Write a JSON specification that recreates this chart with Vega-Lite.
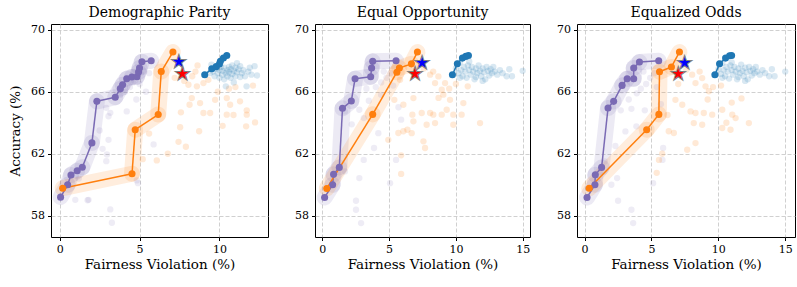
{
"$schema": "https://vega.github.io/schema/vega-lite/v6.json",
"padding": {"left": 8, "top": 5, "right": 5, "bottom": 5},
"config": {
  "font": "DejaVu Serif",
  "concat": {"spacing": 25},
  "view": {"stroke": "#000000"},
  "axis": {"labelFont": "DejaVu Serif", "labelFontSize": 11, "labelColor": "#000", "labelOverlap": false, "titleFont": "DejaVu Serif", "titleFontSize": 13.5, "titleFontWeight": "normal", "titleColor": "#000", "domain": false, "tickColor": "#000", "tickSize": 3.5, "labelPadding": 3, "gridColor": "#c4c4c4", "gridDash": [4, 2], "gridWidth": 0.8},
  "title": {"font": "DejaVu Serif", "fontSize": 14, "fontWeight": "normal", "color": "#000"}
},
"data": {"values": [
    {"k":"L","p":1,"s":"P","x":0.06,"y":59.2},{"k":"L","p":1,"s":"P","x":0.5,"y":60.0},{"k":"L","p":1,"s":"P","x":0.71,"y":60.63},{"k":"L","p":1,"s":"P","x":1.1,"y":60.9},{"k":"L","p":1,"s":"P","x":1.42,"y":61.13},{"k":"L","p":1,"s":"P","x":2.02,"y":62.7},{"k":"L","p":1,"s":"P","x":2.33,"y":65.38},{"k":"L","p":1,"s":"P","x":3.48,"y":65.65},{"k":"L","p":1,"s":"P","x":3.8,"y":66.2},{"k":"L","p":1,"s":"P","x":3.94,"y":66.45},{"k":"L","p":1,"s":"P","x":4.2,"y":66.84},{"k":"L","p":1,"s":"P","x":4.52,"y":66.95},{"k":"L","p":1,"s":"P","x":4.84,"y":66.97},{"k":"L","p":1,"s":"P","x":4.94,"y":67.27},{"k":"L","p":1,"s":"P","x":5.0,"y":67.53},{"k":"L","p":1,"s":"P","x":5.15,"y":67.94},{"k":"L","p":1,"s":"P","x":5.73,"y":68.0},
    {"k":"L","p":1,"s":"O","x":0.19,"y":59.78},{"k":"L","p":1,"s":"O","x":4.53,"y":60.71},{"k":"L","p":1,"s":"O","x":4.73,"y":63.55},{"k":"L","p":1,"s":"O","x":6.17,"y":64.53},{"k":"L","p":1,"s":"O","x":6.36,"y":67.3},{"k":"L","p":1,"s":"O","x":7.09,"y":68.56},
    {"k":"L","p":1,"s":"B","x":9.08,"y":67.1},{"k":"L","p":1,"s":"B","x":9.52,"y":67.48},{"k":"L","p":1,"s":"B","x":9.8,"y":67.62},{"k":"L","p":1,"s":"B","x":10.0,"y":67.79},{"k":"L","p":1,"s":"B","x":10.06,"y":67.96},{"k":"L","p":1,"s":"B","x":10.25,"y":68.18},{"k":"L","p":1,"s":"B","x":10.46,"y":68.34},
    {"k":"L","p":2,"s":"P","x":0.17,"y":59.18},{"k":"L","p":2,"s":"P","x":0.77,"y":60.0},{"k":"L","p":2,"s":"P","x":0.84,"y":60.67},{"k":"L","p":2,"s":"P","x":1.27,"y":61.12},{"k":"L","p":2,"s":"P","x":1.51,"y":64.93},{"k":"L","p":2,"s":"P","x":2.17,"y":65.4},{"k":"L","p":2,"s":"P","x":2.45,"y":66.84},{"k":"L","p":2,"s":"P","x":3.62,"y":66.97},{"k":"L","p":2,"s":"P","x":3.69,"y":67.53},{"k":"L","p":2,"s":"P","x":3.77,"y":67.96},{"k":"L","p":2,"s":"P","x":5.52,"y":68.0},
    {"k":"L","p":2,"s":"O","x":0.33,"y":59.76},{"k":"L","p":2,"s":"O","x":3.77,"y":64.54},{"k":"L","p":2,"s":"O","x":5.58,"y":67.26},{"k":"L","p":2,"s":"O","x":5.77,"y":67.53},{"k":"L","p":2,"s":"O","x":6.67,"y":67.8},{"k":"L","p":2,"s":"O","x":7.12,"y":68.56},
    {"k":"L","p":2,"s":"B","x":9.74,"y":67.1},{"k":"L","p":2,"s":"B","x":10.11,"y":67.81},{"k":"L","p":2,"s":"B","x":10.49,"y":68.17},{"k":"L","p":2,"s":"B","x":10.74,"y":68.28},{"k":"L","p":2,"s":"B","x":10.94,"y":68.34},
    {"k":"L","p":3,"s":"P","x":0.18,"y":59.18},{"k":"L","p":3,"s":"P","x":0.77,"y":60.0},{"k":"L","p":3,"s":"P","x":0.8,"y":60.65},{"k":"L","p":3,"s":"P","x":1.27,"y":61.12},{"k":"L","p":3,"s":"P","x":1.75,"y":64.95},{"k":"L","p":3,"s":"P","x":2.17,"y":65.38},{"k":"L","p":3,"s":"P","x":2.8,"y":66.41},{"k":"L","p":3,"s":"P","x":3.18,"y":66.84},{"k":"L","p":3,"s":"P","x":3.67,"y":66.84},{"k":"L","p":3,"s":"P","x":3.67,"y":67.53},{"k":"L","p":3,"s":"P","x":4.1,"y":67.92},{"k":"L","p":3,"s":"P","x":5.54,"y":68.0},
    {"k":"L","p":3,"s":"O","x":0.34,"y":59.77},{"k":"L","p":3,"s":"O","x":4.64,"y":63.55},{"k":"L","p":3,"s":"O","x":5.55,"y":64.54},{"k":"L","p":3,"s":"O","x":5.6,"y":67.29},{"k":"L","p":3,"s":"O","x":6.49,"y":67.6},{"k":"L","p":3,"s":"O","x":7.09,"y":68.56},
    {"k":"L","p":3,"s":"B","x":9.74,"y":67.1},{"k":"L","p":3,"s":"B","x":10.09,"y":67.81},{"k":"L","p":3,"s":"B","x":10.54,"y":68.17},{"k":"L","p":3,"s":"B","x":10.84,"y":68.32},{"k":"L","p":3,"s":"B","x":10.99,"y":68.34},
    {"k":"G","p":1,"s":"P","x":0.06,"y":59.2,"x2":0.5,"y2":60.0},{"k":"G","p":1,"s":"P","x":0.5,"y":60.0,"x2":0.71,"y2":60.63},{"k":"G","p":1,"s":"P","x":0.71,"y":60.63,"x2":1.1,"y2":60.9},{"k":"G","p":1,"s":"P","x":1.1,"y":60.9,"x2":1.42,"y2":61.13},{"k":"G","p":1,"s":"P","x":1.42,"y":61.13,"x2":2.02,"y2":62.7},{"k":"G","p":1,"s":"P","x":2.02,"y":62.7,"x2":2.33,"y2":65.38},{"k":"G","p":1,"s":"P","x":2.33,"y":65.38,"x2":3.48,"y2":65.65},{"k":"G","p":1,"s":"P","x":3.48,"y":65.65,"x2":3.8,"y2":66.2},{"k":"G","p":1,"s":"P","x":3.8,"y":66.2,"x2":3.94,"y2":66.45},{"k":"G","p":1,"s":"P","x":3.94,"y":66.45,"x2":4.2,"y2":66.84},{"k":"G","p":1,"s":"P","x":4.2,"y":66.84,"x2":4.52,"y2":66.95},{"k":"G","p":1,"s":"P","x":4.52,"y":66.95,"x2":4.84,"y2":66.97},{"k":"G","p":1,"s":"P","x":4.84,"y":66.97,"x2":4.94,"y2":67.27},{"k":"G","p":1,"s":"P","x":4.94,"y":67.27,"x2":5.0,"y2":67.53},{"k":"G","p":1,"s":"P","x":5.0,"y":67.53,"x2":5.15,"y2":67.94},{"k":"G","p":1,"s":"P","x":5.15,"y":67.94,"x2":5.73,"y2":68.0},
    {"k":"G","p":1,"s":"O","x":0.19,"y":59.78,"x2":4.53,"y2":60.71},{"k":"G","p":1,"s":"O","x":4.53,"y":60.71,"x2":4.73,"y2":63.55},{"k":"G","p":1,"s":"O","x":4.73,"y":63.55,"x2":6.17,"y2":64.53},{"k":"G","p":1,"s":"O","x":6.17,"y":64.53,"x2":6.36,"y2":67.3},{"k":"G","p":1,"s":"O","x":6.36,"y":67.3,"x2":7.09,"y2":68.56},
    {"k":"G","p":1,"s":"B","x":9.08,"y":67.1,"x2":9.52,"y2":67.48},{"k":"G","p":1,"s":"B","x":9.52,"y":67.48,"x2":9.8,"y2":67.62},{"k":"G","p":1,"s":"B","x":9.8,"y":67.62,"x2":10.0,"y2":67.79},{"k":"G","p":1,"s":"B","x":10.0,"y":67.79,"x2":10.06,"y2":67.96},{"k":"G","p":1,"s":"B","x":10.06,"y":67.96,"x2":10.25,"y2":68.18},{"k":"G","p":1,"s":"B","x":10.25,"y":68.18,"x2":10.46,"y2":68.34},
    {"k":"G","p":2,"s":"P","x":0.17,"y":59.18,"x2":0.77,"y2":60.0},{"k":"G","p":2,"s":"P","x":0.77,"y":60.0,"x2":0.84,"y2":60.67},{"k":"G","p":2,"s":"P","x":0.84,"y":60.67,"x2":1.27,"y2":61.12},{"k":"G","p":2,"s":"P","x":1.27,"y":61.12,"x2":1.51,"y2":64.93},{"k":"G","p":2,"s":"P","x":1.51,"y":64.93,"x2":2.17,"y2":65.4},{"k":"G","p":2,"s":"P","x":2.17,"y":65.4,"x2":2.45,"y2":66.84},{"k":"G","p":2,"s":"P","x":2.45,"y":66.84,"x2":3.62,"y2":66.97},{"k":"G","p":2,"s":"P","x":3.62,"y":66.97,"x2":3.69,"y2":67.53},{"k":"G","p":2,"s":"P","x":3.69,"y":67.53,"x2":3.77,"y2":67.96},{"k":"G","p":2,"s":"P","x":3.77,"y":67.96,"x2":5.52,"y2":68.0},
    {"k":"G","p":2,"s":"O","x":0.33,"y":59.76,"x2":3.77,"y2":64.54},{"k":"G","p":2,"s":"O","x":3.77,"y":64.54,"x2":5.58,"y2":67.26},{"k":"G","p":2,"s":"O","x":5.58,"y":67.26,"x2":5.77,"y2":67.53},{"k":"G","p":2,"s":"O","x":5.77,"y":67.53,"x2":6.67,"y2":67.8},{"k":"G","p":2,"s":"O","x":6.67,"y":67.8,"x2":7.12,"y2":68.56},
    {"k":"G","p":2,"s":"B","x":9.74,"y":67.1,"x2":10.11,"y2":67.81},{"k":"G","p":2,"s":"B","x":10.11,"y":67.81,"x2":10.49,"y2":68.17},{"k":"G","p":2,"s":"B","x":10.49,"y":68.17,"x2":10.74,"y2":68.28},{"k":"G","p":2,"s":"B","x":10.74,"y":68.28,"x2":10.94,"y2":68.34},
    {"k":"G","p":3,"s":"P","x":0.18,"y":59.18,"x2":0.77,"y2":60.0},{"k":"G","p":3,"s":"P","x":0.77,"y":60.0,"x2":0.8,"y2":60.65},{"k":"G","p":3,"s":"P","x":0.8,"y":60.65,"x2":1.27,"y2":61.12},{"k":"G","p":3,"s":"P","x":1.27,"y":61.12,"x2":1.75,"y2":64.95},{"k":"G","p":3,"s":"P","x":1.75,"y":64.95,"x2":2.17,"y2":65.38},{"k":"G","p":3,"s":"P","x":2.17,"y":65.38,"x2":2.8,"y2":66.41},{"k":"G","p":3,"s":"P","x":2.8,"y":66.41,"x2":3.18,"y2":66.84},{"k":"G","p":3,"s":"P","x":3.18,"y":66.84,"x2":3.67,"y2":66.84},{"k":"G","p":3,"s":"P","x":3.67,"y":66.84,"x2":3.67,"y2":67.53},{"k":"G","p":3,"s":"P","x":3.67,"y":67.53,"x2":4.1,"y2":67.92},{"k":"G","p":3,"s":"P","x":4.1,"y":67.92,"x2":5.54,"y2":68.0},
    {"k":"G","p":3,"s":"O","x":0.34,"y":59.77,"x2":4.64,"y2":63.55},{"k":"G","p":3,"s":"O","x":4.64,"y":63.55,"x2":5.55,"y2":64.54},{"k":"G","p":3,"s":"O","x":5.55,"y":64.54,"x2":5.6,"y2":67.29},{"k":"G","p":3,"s":"O","x":5.6,"y":67.29,"x2":6.49,"y2":67.6},{"k":"G","p":3,"s":"O","x":6.49,"y":67.6,"x2":7.09,"y2":68.56},
    {"k":"G","p":3,"s":"B","x":9.74,"y":67.1,"x2":10.09,"y2":67.81},{"k":"G","p":3,"s":"B","x":10.09,"y":67.81,"x2":10.54,"y2":68.17},{"k":"G","p":3,"s":"B","x":10.54,"y":68.17,"x2":10.84,"y2":68.32},{"k":"G","p":3,"s":"B","x":10.84,"y":68.32,"x2":10.99,"y2":68.34},
    {"k":"S","p":1,"s":"Sb","x":7.46,"y":67.96},{"k":"S","p":1,"s":"Sr","x":7.69,"y":67.21},
    {"k":"S","p":2,"s":"Sb","x":7.47,"y":67.94},{"k":"S","p":2,"s":"Sr","x":6.94,"y":67.2},
    {"k":"S","p":3,"s":"Sb","x":7.47,"y":67.95},{"k":"S","p":3,"s":"Sr","x":7.0,"y":67.2},
    {"k":"D","p":1,"s":"O","x":8.63,"y":67.7},{"k":"D","p":1,"s":"O","x":8.06,"y":66.45},{"k":"D","p":1,"s":"O","x":8.59,"y":66.35},{"k":"D","p":1,"s":"O","x":9.0,"y":66.56},{"k":"D","p":1,"s":"O","x":9.31,"y":66.77},{"k":"D","p":1,"s":"O","x":8.27,"y":65.59},{"k":"D","p":1,"s":"O","x":8.13,"y":65.16},{"k":"D","p":1,"s":"O","x":8.79,"y":65.27},{"k":"D","p":1,"s":"O","x":9.73,"y":65.48},{"k":"D","p":1,"s":"O","x":10.46,"y":65.59},{"k":"D","p":1,"s":"O","x":10.67,"y":65.16},{"k":"D","p":1,"s":"O","x":11.29,"y":65.38},{"k":"D","p":1,"s":"O","x":9.0,"y":64.63},{"k":"D","p":1,"s":"O","x":9.42,"y":64.63},{"k":"D","p":1,"s":"O","x":7.59,"y":64.67},{"k":"D","p":1,"s":"O","x":10.46,"y":64.52},{"k":"D","p":1,"s":"O","x":11.71,"y":64.52},{"k":"D","p":1,"s":"O","x":11.71,"y":64.8},{"k":"D","p":1,"s":"O","x":12.23,"y":64.02},{"k":"D","p":1,"s":"O","x":11.67,"y":63.77},{"k":"D","p":1,"s":"O","x":8.73,"y":63.45},{"k":"D","p":1,"s":"O","x":7.54,"y":63.71},{"k":"D","p":1,"s":"O","x":7.44,"y":62.77},{"k":"D","p":1,"s":"O","x":7.9,"y":62.45},{"k":"D","p":1,"s":"O","x":6.77,"y":62.0},{"k":"D","p":1,"s":"O","x":6.08,"y":61.57},{"k":"D","p":1,"s":"O","x":5.2,"y":61.65},{"k":"D","p":1,"s":"O","x":10.88,"y":64.5},{"k":"D","p":1,"s":"O","x":10.6,"y":66.2},{"k":"D","p":1,"s":"O","x":9.9,"y":66.0},{"k":"D","p":1,"s":"O","x":8.3,"y":67.0},{"k":"D","p":1,"s":"O","x":7.8,"y":66.7},{"k":"D","p":1,"s":"O","x":7.2,"y":66.9},{"k":"D","p":1,"s":"O","x":8.5,"y":67.3},{"k":"D","p":1,"s":"O","x":5.6,"y":63.3},{"k":"D","p":1,"s":"O","x":10.2,"y":63.8},{"k":"D","p":1,"s":"O","x":11.0,"y":66.3},{"k":"D","p":1,"s":"O","x":12.1,"y":66.4},
    {"k":"D","p":1,"s":"B","x":9.4,"y":67.2},{"k":"D","p":1,"s":"B","x":9.6,"y":67.3},{"k":"D","p":1,"s":"B","x":9.7,"y":67.0},{"k":"D","p":1,"s":"B","x":9.8,"y":67.5},{"k":"D","p":1,"s":"B","x":9.9,"y":67.2},{"k":"D","p":1,"s":"B","x":10.0,"y":67.4},{"k":"D","p":1,"s":"B","x":10.0,"y":66.9},{"k":"D","p":1,"s":"B","x":10.1,"y":67.6},{"k":"D","p":1,"s":"B","x":10.2,"y":67.1},{"k":"D","p":1,"s":"B","x":10.2,"y":67.35},{"k":"D","p":1,"s":"B","x":10.3,"y":66.8},{"k":"D","p":1,"s":"B","x":10.3,"y":67.55},{"k":"D","p":1,"s":"B","x":10.4,"y":67.2},{"k":"D","p":1,"s":"B","x":10.4,"y":66.35},{"k":"D","p":1,"s":"B","x":10.5,"y":67.4},{"k":"D","p":1,"s":"B","x":10.5,"y":67.0},{"k":"D","p":1,"s":"B","x":10.6,"y":67.6},{"k":"D","p":1,"s":"B","x":10.6,"y":67.25},{"k":"D","p":1,"s":"B","x":10.7,"y":66.9},{"k":"D","p":1,"s":"B","x":10.7,"y":67.45},{"k":"D","p":1,"s":"B","x":10.8,"y":67.15},{"k":"D","p":1,"s":"B","x":10.8,"y":67.7},{"k":"D","p":1,"s":"B","x":10.9,"y":67.35},{"k":"D","p":1,"s":"B","x":11.0,"y":67.0},{"k":"D","p":1,"s":"B","x":11.0,"y":67.55},{"k":"D","p":1,"s":"B","x":11.1,"y":67.25},{"k":"D","p":1,"s":"B","x":11.2,"y":67.45},{"k":"D","p":1,"s":"B","x":11.3,"y":66.95},{"k":"D","p":1,"s":"B","x":11.3,"y":67.65},{"k":"D","p":1,"s":"B","x":11.4,"y":67.2},{"k":"D","p":1,"s":"B","x":11.5,"y":67.4},{"k":"D","p":1,"s":"B","x":11.6,"y":67.0},{"k":"D","p":1,"s":"B","x":11.7,"y":66.35},{"k":"D","p":1,"s":"B","x":11.8,"y":67.3},{"k":"D","p":1,"s":"B","x":11.9,"y":67.55},{"k":"D","p":1,"s":"B","x":12.0,"y":67.1},{"k":"D","p":1,"s":"B","x":12.2,"y":67.65},{"k":"D","p":1,"s":"B","x":12.35,"y":67.05},{"k":"D","p":1,"s":"B","x":9.5,"y":67.75},{"k":"D","p":1,"s":"B","x":10.9,"y":66.6},{"k":"D","p":1,"s":"B","x":11.1,"y":67.85},
    {"k":"D","p":1,"s":"P","x":3.17,"y":64.64},{"k":"D","p":1,"s":"P","x":2.92,"y":64.96},{"k":"D","p":1,"s":"P","x":3.06,"y":64.42},{"k":"D","p":1,"s":"P","x":2.92,"y":61.52},{"k":"D","p":1,"s":"P","x":2.96,"y":61.95},{"k":"D","p":1,"s":"P","x":4.83,"y":60.28},{"k":"D","p":1,"s":"P","x":3.17,"y":58.41},{"k":"D","p":1,"s":"P","x":3.27,"y":57.55},{"k":"D","p":1,"s":"P","x":1.75,"y":59.0},{"k":"D","p":1,"s":"P","x":5.88,"y":62.6},{"k":"D","p":1,"s":"P","x":3.06,"y":62.9},{"k":"D","p":1,"s":"P","x":2.69,"y":62.32},{"k":"D","p":1,"s":"P","x":0.98,"y":59.03},{"k":"D","p":1,"s":"P","x":1.81,"y":59.03},{"k":"D","p":1,"s":"P","x":4.2,"y":64.73},{"k":"D","p":1,"s":"P","x":4.9,"y":60.1},{"k":"D","p":1,"s":"P","x":4.1,"y":66.0},{"k":"D","p":1,"s":"P","x":4.4,"y":66.3},{"k":"D","p":1,"s":"P","x":4.6,"y":66.6},{"k":"D","p":1,"s":"P","x":5.0,"y":66.5},{"k":"D","p":1,"s":"P","x":4.2,"y":66.9},{"k":"D","p":1,"s":"P","x":5.3,"y":67.3},{"k":"D","p":1,"s":"P","x":5.6,"y":67.2},{"k":"D","p":1,"s":"P","x":3.8,"y":65.8},{"k":"D","p":1,"s":"P","x":4.8,"y":65.5},{"k":"D","p":1,"s":"P","x":1.2,"y":60.4},{"k":"D","p":1,"s":"P","x":2.5,"y":63.5},{"k":"D","p":1,"s":"P","x":5.4,"y":66.0},
    {"k":"D","p":2,"s":"O","x":8.07,"y":67.1},{"k":"D","p":2,"s":"O","x":8.69,"y":66.99},{"k":"D","p":2,"s":"O","x":8.44,"y":66.56},{"k":"D","p":2,"s":"O","x":9.19,"y":66.56},{"k":"D","p":2,"s":"O","x":8.94,"y":66.13},{"k":"D","p":2,"s":"O","x":9.06,"y":65.81},{"k":"D","p":2,"s":"O","x":9.56,"y":65.48},{"k":"D","p":2,"s":"O","x":6.82,"y":65.59},{"k":"D","p":2,"s":"O","x":6.07,"y":65.16},{"k":"D","p":2,"s":"O","x":7.44,"y":64.63},{"k":"D","p":2,"s":"O","x":8.07,"y":64.63},{"k":"D","p":2,"s":"O","x":8.31,"y":64.52},{"k":"D","p":2,"s":"O","x":8.94,"y":64.52},{"k":"D","p":2,"s":"O","x":9.31,"y":64.84},{"k":"D","p":2,"s":"O","x":9.81,"y":64.52},{"k":"D","p":2,"s":"O","x":7.81,"y":63.87},{"k":"D","p":2,"s":"O","x":8.44,"y":63.98},{"k":"D","p":2,"s":"O","x":9.81,"y":63.87},{"k":"D","p":2,"s":"O","x":11.81,"y":63.98},{"k":"D","p":2,"s":"O","x":6.07,"y":63.45},{"k":"D","p":2,"s":"O","x":6.37,"y":63.55},{"k":"D","p":2,"s":"O","x":5.69,"y":63.34},{"k":"D","p":2,"s":"O","x":4.94,"y":62.9},{"k":"D","p":2,"s":"O","x":7.57,"y":62.8},{"k":"D","p":2,"s":"O","x":7.69,"y":62.37},{"k":"D","p":2,"s":"O","x":6.82,"y":64.09},{"k":"D","p":2,"s":"O","x":5.82,"y":66.77},{"k":"D","p":2,"s":"O","x":5.39,"y":65.48},{"k":"D","p":2,"s":"O","x":5.9,"y":60.7},{"k":"D","p":2,"s":"O","x":5.9,"y":61.9},{"k":"D","p":2,"s":"O","x":6.69,"y":63.33},{"k":"D","p":2,"s":"O","x":6.74,"y":64.52},{"k":"D","p":2,"s":"O","x":10.43,"y":64.52},{"k":"D","p":2,"s":"O","x":10.56,"y":65.27},{"k":"D","p":2,"s":"O","x":10.89,"y":66.35},{"k":"D","p":2,"s":"O","x":7.6,"y":67.5},{"k":"D","p":2,"s":"O","x":8.3,"y":67.3},{"k":"D","p":2,"s":"O","x":9.5,"y":66.2},{"k":"D","p":2,"s":"O","x":10.0,"y":66.5},{"k":"D","p":2,"s":"O","x":8.7,"y":65.6},
    {"k":"D","p":2,"s":"B","x":10.0,"y":67.5},{"k":"D","p":2,"s":"B","x":10.2,"y":67.2},{"k":"D","p":2,"s":"B","x":10.3,"y":67.9},{"k":"D","p":2,"s":"B","x":10.4,"y":67.4},{"k":"D","p":2,"s":"B","x":10.5,"y":67.0},{"k":"D","p":2,"s":"B","x":10.6,"y":67.6},{"k":"D","p":2,"s":"B","x":10.7,"y":67.3},{"k":"D","p":2,"s":"B","x":10.8,"y":66.9},{"k":"D","p":2,"s":"B","x":10.9,"y":67.7},{"k":"D","p":2,"s":"B","x":11.0,"y":67.4},{"k":"D","p":2,"s":"B","x":11.1,"y":67.1},{"k":"D","p":2,"s":"B","x":11.2,"y":67.6},{"k":"D","p":2,"s":"B","x":11.3,"y":67.3},{"k":"D","p":2,"s":"B","x":11.4,"y":66.8},{"k":"D","p":2,"s":"B","x":11.5,"y":67.5},{"k":"D","p":2,"s":"B","x":11.6,"y":67.2},{"k":"D","p":2,"s":"B","x":11.7,"y":67.7},{"k":"D","p":2,"s":"B","x":11.8,"y":67.35},{"k":"D","p":2,"s":"B","x":11.9,"y":67.0},{"k":"D","p":2,"s":"B","x":12.0,"y":67.5},{"k":"D","p":2,"s":"B","x":12.1,"y":67.25},{"k":"D","p":2,"s":"B","x":12.2,"y":66.8},{"k":"D","p":2,"s":"B","x":12.3,"y":67.6},{"k":"D","p":2,"s":"B","x":12.4,"y":67.35},{"k":"D","p":2,"s":"B","x":12.5,"y":67.05},{"k":"D","p":2,"s":"B","x":12.6,"y":67.45},{"k":"D","p":2,"s":"B","x":12.7,"y":67.2},{"k":"D","p":2,"s":"B","x":12.8,"y":67.6},{"k":"D","p":2,"s":"B","x":12.9,"y":67.3},{"k":"D","p":2,"s":"B","x":13.1,"y":67.1},{"k":"D","p":2,"s":"B","x":13.3,"y":67.4},{"k":"D","p":2,"s":"B","x":13.5,"y":67.2},{"k":"D","p":2,"s":"B","x":13.8,"y":67.0},{"k":"D","p":2,"s":"B","x":14.0,"y":67.45},{"k":"D","p":2,"s":"B","x":14.2,"y":67.0},{"k":"D","p":2,"s":"B","x":15.0,"y":67.35},{"k":"D","p":2,"s":"B","x":11.0,"y":67.95},{"k":"D","p":2,"s":"B","x":10.3,"y":66.9},{"k":"D","p":2,"s":"B","x":12.0,"y":66.7},{"k":"D","p":2,"s":"B","x":11.5,"y":66.95},
    {"k":"D","p":2,"s":"P","x":2.52,"y":58.97},{"k":"D","p":2,"s":"P","x":2.52,"y":58.39},{"k":"D","p":2,"s":"P","x":2.9,"y":57.53},{"k":"D","p":2,"s":"P","x":2.77,"y":60.43},{"k":"D","p":2,"s":"P","x":3.1,"y":61.6},{"k":"D","p":2,"s":"P","x":3.87,"y":62.37},{"k":"D","p":2,"s":"P","x":5.52,"y":61.6},{"k":"D","p":2,"s":"P","x":5.07,"y":60.1},{"k":"D","p":2,"s":"P","x":5.9,"y":64.2},{"k":"D","p":2,"s":"P","x":2.77,"y":64.84},{"k":"D","p":2,"s":"P","x":1.69,"y":64.73},{"k":"D","p":2,"s":"P","x":3.48,"y":65.42},{"k":"D","p":2,"s":"P","x":4.19,"y":63.33},{"k":"D","p":2,"s":"P","x":1.69,"y":60.86},{"k":"D","p":2,"s":"P","x":4.0,"y":66.3},{"k":"D","p":2,"s":"P","x":4.4,"y":66.6},{"k":"D","p":2,"s":"P","x":4.8,"y":66.9},{"k":"D","p":2,"s":"P","x":5.1,"y":67.2},{"k":"D","p":2,"s":"P","x":4.6,"y":67.3},{"k":"D","p":2,"s":"P","x":3.3,"y":66.2},{"k":"D","p":2,"s":"P","x":3.1,"y":64.3},{"k":"D","p":2,"s":"P","x":2.2,"y":63.9},{"k":"D","p":2,"s":"P","x":4.4,"y":65.8},{"k":"D","p":2,"s":"P","x":5.3,"y":66.4},{"k":"D","p":2,"s":"P","x":5.7,"y":65.0},
    {"k":"D","p":3,"s":"O","x":8.04,"y":67.1},{"k":"D","p":3,"s":"O","x":8.79,"y":66.88},{"k":"D","p":3,"s":"O","x":8.29,"y":66.56},{"k":"D","p":3,"s":"O","x":9.04,"y":66.35},{"k":"D","p":3,"s":"O","x":9.29,"y":66.03},{"k":"D","p":3,"s":"O","x":6.79,"y":65.48},{"k":"D","p":3,"s":"O","x":7.3,"y":65.16},{"k":"D","p":3,"s":"O","x":7.92,"y":64.73},{"k":"D","p":3,"s":"O","x":8.29,"y":64.63},{"k":"D","p":3,"s":"O","x":8.91,"y":64.63},{"k":"D","p":3,"s":"O","x":9.54,"y":64.52},{"k":"D","p":3,"s":"O","x":10.29,"y":64.84},{"k":"D","p":3,"s":"O","x":11.04,"y":64.52},{"k":"D","p":3,"s":"O","x":8.16,"y":63.98},{"k":"D","p":3,"s":"O","x":8.79,"y":63.87},{"k":"D","p":3,"s":"O","x":10.29,"y":63.66},{"k":"D","p":3,"s":"O","x":10.91,"y":63.55},{"k":"D","p":3,"s":"O","x":12.28,"y":63.98},{"k":"D","p":3,"s":"O","x":6.29,"y":63.45},{"k":"D","p":3,"s":"O","x":6.67,"y":63.34},{"k":"D","p":3,"s":"O","x":8.29,"y":62.69},{"k":"D","p":3,"s":"O","x":7.67,"y":62.26},{"k":"D","p":3,"s":"O","x":11.29,"y":64.3},{"k":"D","p":3,"s":"O","x":11.73,"y":65.57},{"k":"D","p":3,"s":"O","x":5.39,"y":60.77},{"k":"D","p":3,"s":"O","x":5.56,"y":61.6},{"k":"D","p":3,"s":"O","x":5.8,"y":62.0},{"k":"D","p":3,"s":"O","x":7.6,"y":67.4},{"k":"D","p":3,"s":"O","x":8.6,"y":67.3},{"k":"D","p":3,"s":"O","x":9.6,"y":66.3},{"k":"D","p":3,"s":"O","x":10.2,"y":66.4},{"k":"D","p":3,"s":"O","x":11.0,"y":65.3},{"k":"D","p":3,"s":"O","x":9.2,"y":65.5},{"k":"D","p":3,"s":"O","x":7.0,"y":66.5},{"k":"D","p":3,"s":"O","x":6.2,"y":64.5},{"k":"D","p":3,"s":"O","x":10.6,"y":64.0},
    {"k":"D","p":3,"s":"B","x":10.0,"y":67.45},{"k":"D","p":3,"s":"B","x":10.2,"y":67.15},{"k":"D","p":3,"s":"B","x":10.3,"y":67.85},{"k":"D","p":3,"s":"B","x":10.4,"y":67.4},{"k":"D","p":3,"s":"B","x":10.5,"y":67.0},{"k":"D","p":3,"s":"B","x":10.6,"y":67.6},{"k":"D","p":3,"s":"B","x":10.7,"y":67.3},{"k":"D","p":3,"s":"B","x":10.8,"y":66.85},{"k":"D","p":3,"s":"B","x":10.9,"y":67.7},{"k":"D","p":3,"s":"B","x":11.0,"y":67.4},{"k":"D","p":3,"s":"B","x":11.1,"y":67.1},{"k":"D","p":3,"s":"B","x":11.2,"y":67.6},{"k":"D","p":3,"s":"B","x":11.3,"y":67.3},{"k":"D","p":3,"s":"B","x":11.4,"y":66.8},{"k":"D","p":3,"s":"B","x":11.5,"y":67.5},{"k":"D","p":3,"s":"B","x":11.6,"y":67.2},{"k":"D","p":3,"s":"B","x":11.7,"y":67.75},{"k":"D","p":3,"s":"B","x":11.8,"y":67.35},{"k":"D","p":3,"s":"B","x":11.9,"y":67.0},{"k":"D","p":3,"s":"B","x":12.0,"y":67.55},{"k":"D","p":3,"s":"B","x":12.1,"y":67.25},{"k":"D","p":3,"s":"B","x":12.2,"y":66.8},{"k":"D","p":3,"s":"B","x":12.3,"y":67.6},{"k":"D","p":3,"s":"B","x":12.4,"y":67.35},{"k":"D","p":3,"s":"B","x":12.5,"y":67.05},{"k":"D","p":3,"s":"B","x":12.6,"y":67.45},{"k":"D","p":3,"s":"B","x":12.7,"y":67.2},{"k":"D","p":3,"s":"B","x":12.8,"y":67.6},{"k":"D","p":3,"s":"B","x":12.9,"y":67.3},{"k":"D","p":3,"s":"B","x":13.1,"y":67.1},{"k":"D","p":3,"s":"B","x":13.3,"y":67.4},{"k":"D","p":3,"s":"B","x":13.5,"y":67.2},{"k":"D","p":3,"s":"B","x":13.8,"y":67.0},{"k":"D","p":3,"s":"B","x":14.0,"y":67.45},{"k":"D","p":3,"s":"B","x":14.2,"y":67.0},{"k":"D","p":3,"s":"B","x":15.0,"y":67.3},{"k":"D","p":3,"s":"B","x":11.0,"y":67.9},{"k":"D","p":3,"s":"B","x":10.3,"y":66.9},{"k":"D","p":3,"s":"B","x":12.0,"y":66.7},{"k":"D","p":3,"s":"B","x":11.5,"y":66.95},
    {"k":"D","p":3,"s":"P","x":2.5,"y":58.97},{"k":"D","p":3,"s":"P","x":3.63,"y":57.53},{"k":"D","p":3,"s":"P","x":3.5,"y":58.39},{"k":"D","p":3,"s":"P","x":2.43,"y":60.43},{"k":"D","p":3,"s":"P","x":5.12,"y":60.1},{"k":"D","p":3,"s":"P","x":5.82,"y":61.6},{"k":"D","p":3,"s":"P","x":5.87,"y":62.37},{"k":"D","p":3,"s":"P","x":3.87,"y":63.77},{"k":"D","p":3,"s":"P","x":3.05,"y":63.44},{"k":"D","p":3,"s":"P","x":2.7,"y":64.8},{"k":"D","p":3,"s":"P","x":3.3,"y":65.5},{"k":"D","p":3,"s":"P","x":3.5,"y":64.9},{"k":"D","p":3,"s":"P","x":4.2,"y":66.2},{"k":"D","p":3,"s":"P","x":4.6,"y":66.5},{"k":"D","p":3,"s":"P","x":4.9,"y":66.9},{"k":"D","p":3,"s":"P","x":5.2,"y":67.2},{"k":"D","p":3,"s":"P","x":4.4,"y":67.3},{"k":"D","p":3,"s":"P","x":3.9,"y":65.9},{"k":"D","p":3,"s":"P","x":5.4,"y":66.3},{"k":"D","p":3,"s":"P","x":2.3,"y":62.5},{"k":"D","p":3,"s":"P","x":1.5,"y":61.5},{"k":"D","p":3,"s":"P","x":4.5,"y":64.8},{"k":"D","p":3,"s":"P","x":5.7,"y":65.2},{"k":"D","p":3,"s":"P","x":2.0,"y":60.0}
]},
"hconcat": [
  {
    "width": 217, "height": 213,
    "title": {"text": "Demographic Parity"},
    "layer": [
      {"transform": [{"filter": "datum.k == 'G' && datum.p == 1 && datum.s == 'P'"}], "mark": {"type": "rule", "color": "#7a6ab4", "opacity": 0.14, "strokeWidth": 16, "strokeCap": "round"},
       "encoding": {
         "x": {"field": "x", "type": "quantitative", "scale": {"domain": [-0.54, 13.04], "nice": false, "zero": false}, "axis": {"values": [0, 5, 10], "title": "Fairness Violation (%)", "titlePadding": 3}},
         "y": {"field": "y", "type": "quantitative", "scale": {"domain": [56.63, 70.37], "nice": false, "zero": false}, "axis": {"values": [58, 60, 62, 64, 66, 68, 70], "title": "Accuracy (%)", "titlePadding": 8}},
         "x2": {"field": "x2"}, "y2": {"field": "y2"}}},
      {"transform": [{"filter": "datum.k == 'G' && datum.p == 1 && datum.s == 'O'"}], "mark": {"type": "rule", "color": "#ff7f0e", "opacity": 0.14, "strokeWidth": 16, "strokeCap": "round"},
       "encoding": {"x": {"field": "x", "type": "quantitative"}, "y": {"field": "y", "type": "quantitative"}, "x2": {"field": "x2"}, "y2": {"field": "y2"}}},
      {"transform": [{"filter": "datum.k == 'D' && datum.p == 1 && datum.s == 'P'"}], "mark": {"type": "circle", "size": 40, "color": "#7a6ab4", "opacity": 0.13},
       "encoding": {"x": {"field": "x", "type": "quantitative"}, "y": {"field": "y", "type": "quantitative"}}},
      {"transform": [{"filter": "datum.k == 'D' && datum.p == 1 && datum.s == 'O'"}], "mark": {"type": "circle", "size": 40, "color": "#ff7f0e", "opacity": 0.17},
       "encoding": {"x": {"field": "x", "type": "quantitative"}, "y": {"field": "y", "type": "quantitative"}}},
      {"transform": [{"filter": "datum.k == 'D' && datum.p == 1 && datum.s == 'B'"}], "mark": {"type": "circle", "size": 40, "color": "#1f77b4", "opacity": 0.17},
       "encoding": {"x": {"field": "x", "type": "quantitative"}, "y": {"field": "y", "type": "quantitative"}}},
      {"transform": [{"filter": "datum.k == 'G' && datum.p == 1"}], "mark": {"type": "rule", "strokeWidth": 1.5},
       "encoding": {"x": {"field": "x", "type": "quantitative"}, "y": {"field": "y", "type": "quantitative"}, "x2": {"field": "x2"}, "y2": {"field": "y2"}, "color": {"field": "s", "type": "nominal", "scale": {"domain": ["P", "O", "B"], "range": ["#7a6ab4", "#ff7f0e", "#1f77b4"]}, "legend": null}}},
      {"transform": [{"filter": "datum.k == 'L' && datum.p == 1"}], "mark": {"type": "circle", "size": 50, "opacity": 1},
       "encoding": {"x": {"field": "x", "type": "quantitative"}, "y": {"field": "y", "type": "quantitative"}, "color": {"field": "s", "type": "nominal", "legend": null}}},
      {"transform": [{"filter": "datum.k == 'S' && datum.p == 1 && datum.s == 'Sb'"}], "mark": {"type": "text", "text": "★", "font": "DejaVu Sans", "fontSize": 19, "fill": "#0000ff", "stroke": "#808080", "strokeWidth": 1, "align": "center", "baseline": "middle", "dy": 1},
       "encoding": {"x": {"field": "x", "type": "quantitative"}, "y": {"field": "y", "type": "quantitative"}}},
      {"transform": [{"filter": "datum.k == 'S' && datum.p == 1 && datum.s == 'Sr'"}], "mark": {"type": "text", "text": "★", "font": "DejaVu Sans", "fontSize": 19, "fill": "#ff0000", "stroke": "#808080", "strokeWidth": 1, "align": "center", "baseline": "middle", "dy": 1},
       "encoding": {"x": {"field": "x", "type": "quantitative"}, "y": {"field": "y", "type": "quantitative"}}}
    ]
  },
  {
    "width": 215, "height": 213,
    "title": {"text": "Equal Opportunity"},
    "layer": [
      {"transform": [{"filter": "datum.k == 'G' && datum.p == 2 && datum.s == 'P'"}], "mark": {"type": "rule", "color": "#7a6ab4", "opacity": 0.14, "strokeWidth": 16, "strokeCap": "round"},
       "encoding": {
         "x": {"field": "x", "type": "quantitative", "scale": {"domain": [-0.55, 15.55], "nice": false, "zero": false}, "axis": {"values": [0, 5, 10, 15], "title": "Fairness Violation (%)", "titlePadding": 3}},
         "y": {"field": "y", "type": "quantitative", "scale": {"domain": [56.63, 70.37], "nice": false, "zero": false}, "axis": {"values": [58, 60, 62, 64, 66, 68, 70], "title": null}},
         "x2": {"field": "x2"}, "y2": {"field": "y2"}}},
      {"transform": [{"filter": "datum.k == 'G' && datum.p == 2 && datum.s == 'O'"}], "mark": {"type": "rule", "color": "#ff7f0e", "opacity": 0.14, "strokeWidth": 16, "strokeCap": "round"},
       "encoding": {"x": {"field": "x", "type": "quantitative"}, "y": {"field": "y", "type": "quantitative"}, "x2": {"field": "x2"}, "y2": {"field": "y2"}}},
      {"transform": [{"filter": "datum.k == 'D' && datum.p == 2 && datum.s == 'P'"}], "mark": {"type": "circle", "size": 40, "color": "#7a6ab4", "opacity": 0.13},
       "encoding": {"x": {"field": "x", "type": "quantitative"}, "y": {"field": "y", "type": "quantitative"}}},
      {"transform": [{"filter": "datum.k == 'D' && datum.p == 2 && datum.s == 'O'"}], "mark": {"type": "circle", "size": 40, "color": "#ff7f0e", "opacity": 0.17},
       "encoding": {"x": {"field": "x", "type": "quantitative"}, "y": {"field": "y", "type": "quantitative"}}},
      {"transform": [{"filter": "datum.k == 'D' && datum.p == 2 && datum.s == 'B'"}], "mark": {"type": "circle", "size": 40, "color": "#1f77b4", "opacity": 0.17},
       "encoding": {"x": {"field": "x", "type": "quantitative"}, "y": {"field": "y", "type": "quantitative"}}},
      {"transform": [{"filter": "datum.k == 'G' && datum.p == 2"}], "mark": {"type": "rule", "strokeWidth": 1.5},
       "encoding": {"x": {"field": "x", "type": "quantitative"}, "y": {"field": "y", "type": "quantitative"}, "x2": {"field": "x2"}, "y2": {"field": "y2"}, "color": {"field": "s", "type": "nominal", "scale": {"domain": ["P", "O", "B"], "range": ["#7a6ab4", "#ff7f0e", "#1f77b4"]}, "legend": null}}},
      {"transform": [{"filter": "datum.k == 'L' && datum.p == 2"}], "mark": {"type": "circle", "size": 50, "opacity": 1},
       "encoding": {"x": {"field": "x", "type": "quantitative"}, "y": {"field": "y", "type": "quantitative"}, "color": {"field": "s", "type": "nominal", "legend": null}}},
      {"transform": [{"filter": "datum.k == 'S' && datum.p == 2 && datum.s == 'Sb'"}], "mark": {"type": "text", "text": "★", "font": "DejaVu Sans", "fontSize": 19, "fill": "#0000ff", "stroke": "#808080", "strokeWidth": 1, "align": "center", "baseline": "middle", "dy": 1},
       "encoding": {"x": {"field": "x", "type": "quantitative"}, "y": {"field": "y", "type": "quantitative"}}},
      {"transform": [{"filter": "datum.k == 'S' && datum.p == 2 && datum.s == 'Sr'"}], "mark": {"type": "text", "text": "★", "font": "DejaVu Sans", "fontSize": 19, "fill": "#ff0000", "stroke": "#808080", "strokeWidth": 1, "align": "center", "baseline": "middle", "dy": 1},
       "encoding": {"x": {"field": "x", "type": "quantitative"}, "y": {"field": "y", "type": "quantitative"}}}
    ]
  },
  {
    "width": 218, "height": 213,
    "title": {"text": "Equalized Odds"},
    "layer": [
      {"transform": [{"filter": "datum.k == 'G' && datum.p == 3 && datum.s == 'P'"}], "mark": {"type": "rule", "color": "#7a6ab4", "opacity": 0.14, "strokeWidth": 16, "strokeCap": "round"},
       "encoding": {
         "x": {"field": "x", "type": "quantitative", "scale": {"domain": [-0.57, 15.73], "nice": false, "zero": false}, "axis": {"values": [0, 5, 10, 15], "title": "Fairness Violation (%)", "titlePadding": 3}},
         "y": {"field": "y", "type": "quantitative", "scale": {"domain": [56.63, 70.37], "nice": false, "zero": false}, "axis": {"values": [58, 60, 62, 64, 66, 68, 70], "title": null}},
         "x2": {"field": "x2"}, "y2": {"field": "y2"}}},
      {"transform": [{"filter": "datum.k == 'G' && datum.p == 3 && datum.s == 'O'"}], "mark": {"type": "rule", "color": "#ff7f0e", "opacity": 0.14, "strokeWidth": 16, "strokeCap": "round"},
       "encoding": {"x": {"field": "x", "type": "quantitative"}, "y": {"field": "y", "type": "quantitative"}, "x2": {"field": "x2"}, "y2": {"field": "y2"}}},
      {"transform": [{"filter": "datum.k == 'D' && datum.p == 3 && datum.s == 'P'"}], "mark": {"type": "circle", "size": 40, "color": "#7a6ab4", "opacity": 0.13},
       "encoding": {"x": {"field": "x", "type": "quantitative"}, "y": {"field": "y", "type": "quantitative"}}},
      {"transform": [{"filter": "datum.k == 'D' && datum.p == 3 && datum.s == 'O'"}], "mark": {"type": "circle", "size": 40, "color": "#ff7f0e", "opacity": 0.17},
       "encoding": {"x": {"field": "x", "type": "quantitative"}, "y": {"field": "y", "type": "quantitative"}}},
      {"transform": [{"filter": "datum.k == 'D' && datum.p == 3 && datum.s == 'B'"}], "mark": {"type": "circle", "size": 40, "color": "#1f77b4", "opacity": 0.17},
       "encoding": {"x": {"field": "x", "type": "quantitative"}, "y": {"field": "y", "type": "quantitative"}}},
      {"transform": [{"filter": "datum.k == 'G' && datum.p == 3"}], "mark": {"type": "rule", "strokeWidth": 1.5},
       "encoding": {"x": {"field": "x", "type": "quantitative"}, "y": {"field": "y", "type": "quantitative"}, "x2": {"field": "x2"}, "y2": {"field": "y2"}, "color": {"field": "s", "type": "nominal", "scale": {"domain": ["P", "O", "B"], "range": ["#7a6ab4", "#ff7f0e", "#1f77b4"]}, "legend": null}}},
      {"transform": [{"filter": "datum.k == 'L' && datum.p == 3"}], "mark": {"type": "circle", "size": 50, "opacity": 1},
       "encoding": {"x": {"field": "x", "type": "quantitative"}, "y": {"field": "y", "type": "quantitative"}, "color": {"field": "s", "type": "nominal", "legend": null}}},
      {"transform": [{"filter": "datum.k == 'S' && datum.p == 3 && datum.s == 'Sb'"}], "mark": {"type": "text", "text": "★", "font": "DejaVu Sans", "fontSize": 19, "fill": "#0000ff", "stroke": "#808080", "strokeWidth": 1, "align": "center", "baseline": "middle", "dy": 1},
       "encoding": {"x": {"field": "x", "type": "quantitative"}, "y": {"field": "y", "type": "quantitative"}}},
      {"transform": [{"filter": "datum.k == 'S' && datum.p == 3 && datum.s == 'Sr'"}], "mark": {"type": "text", "text": "★", "font": "DejaVu Sans", "fontSize": 19, "fill": "#ff0000", "stroke": "#808080", "strokeWidth": 1, "align": "center", "baseline": "middle", "dy": 1},
       "encoding": {"x": {"field": "x", "type": "quantitative"}, "y": {"field": "y", "type": "quantitative"}}}
    ]
  }
]
}
